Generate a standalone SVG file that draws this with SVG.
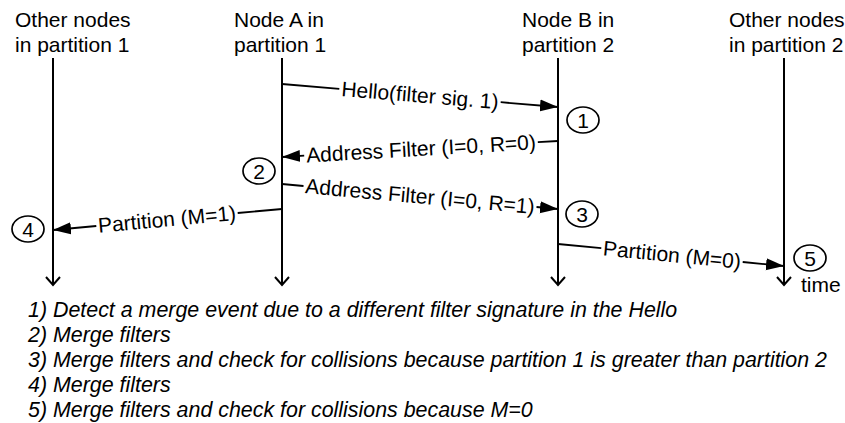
<svg xmlns="http://www.w3.org/2000/svg" width="845" height="423" viewBox="0 0 845 423">
<style>
text{font-family:"Liberation Sans",Arial,sans-serif;font-size:21px;fill:#000}
.life{stroke:#000;stroke-width:2;fill:none}
.msg{stroke:#000;stroke-width:1.8;fill:none}
.circ{stroke:#000;stroke-width:1.7;fill:#fff}
.num{font-size:21px;text-anchor:middle}
.lbl{text-anchor:middle}
.leg{font-style:italic;font-size:21.4px}
</style>
<defs>
<marker id="ah" markerUnits="userSpaceOnUse" markerWidth="20" markerHeight="14" refX="18" refY="7" orient="auto">
<path d="M0,1 L18,7 L0,13 z" fill="#000"/>
</marker>
</defs>
<g id="node-other1">
<text x="15" y="27">Other nodes</text>
<text x="15" y="52">in partition 1</text>
<path class="life" d="M53,58 V285 M46,277 L53,285 L60,277"/>
</g>
<g id="node-a">
<text x="234" y="27">Node A in</text>
<text x="234" y="52">partition 1</text>
<path class="life" d="M282,58 V285 M275,277 L282,285 L289,277"/>
</g>
<g id="node-b">
<text x="522" y="27">Node B in</text>
<text x="522" y="52">partition 2</text>
<path class="life" d="M558,58 V285 M551,277 L558,285 L565,277"/>
</g>
<g id="node-other2">
<text x="729" y="27">Other nodes</text>
<text x="729" y="52">in partition 2</text>
<path class="life" d="M784,58 V285 M777,277 L784,285 L791,277"/>
<text x="801" y="292">time</text>
</g>
<g id="connectors">
<path class="msg" d="M282,84 L339.3,88.8"/>
<path class="msg" d="M500.7,102.2 L558,107" marker-end="url(#ah)"/>
<text class="lbl" x="420" y="102.5" transform="rotate(4.76 420 95.5)">Hello(filter sig. 1)</text>

<path class="msg" d="M558,141 L537.8,142.1"/>
<path class="msg" d="M304.2,155.7 L282,157" marker-end="url(#ah)"/>
<text class="lbl" x="421" y="155.9" transform="rotate(-3.32 421 148.9)">Address Filter (I=0, R=0)</text>

<path class="msg" d="M282,184 L303.5,186"/>
<path class="msg" d="M536.5,207 L558,209" marker-end="url(#ah)"/>
<text class="lbl" x="420" y="203.5" transform="rotate(5.18 420 196.5)">Address Filter (I=0, R=1)</text>

<path class="msg" d="M282,209 L237.7,213"/>
<path class="msg" d="M96.3,226 L53,230" marker-end="url(#ah)"/>
<text class="lbl" x="167" y="226.5" transform="rotate(-5.24 167 219.5)">Partition (M=1)</text>

<path class="msg" d="M558,244 L601.3,248.2"/>
<path class="msg" d="M742.7,262 L784,266" marker-end="url(#ah)"/>
<text class="lbl" x="672" y="262.1" transform="rotate(5.56 672 255.1)">Partition (M=0)</text>
</g>
<g id="event-1"><ellipse class="circ" cx="583" cy="120" rx="16" ry="13"/><text class="num" x="583" y="127.5">1</text></g>
<g id="event-2"><ellipse class="circ" cx="259" cy="171" rx="16" ry="13"/><text class="num" x="259" y="178.5">2</text></g>
<g id="event-3"><ellipse class="circ" cx="582" cy="214" rx="16" ry="13"/><text class="num" x="582" y="221.5">3</text></g>
<g id="event-4"><ellipse class="circ" cx="28" cy="229" rx="16" ry="13"/><text class="num" x="28" y="236.5">4</text></g>
<g id="event-5"><ellipse class="circ" cx="810" cy="258" rx="16" ry="13"/><text class="num" x="810" y="265.5">5</text></g>
<g id="legend">
<text class="leg" x="28" y="317">1) Detect a merge event due to a different filter signature in the Hello</text>
<text class="leg" x="28" y="342">2) Merge filters</text>
<text class="leg" x="28" y="367">3) Merge filters and check for collisions because partition 1 is greater than partition 2</text>
<text class="leg" x="28" y="392">4) Merge filters</text>
<text class="leg" x="28" y="417">5) Merge filters and check for collisions because M=0</text>
</g>
</svg>
